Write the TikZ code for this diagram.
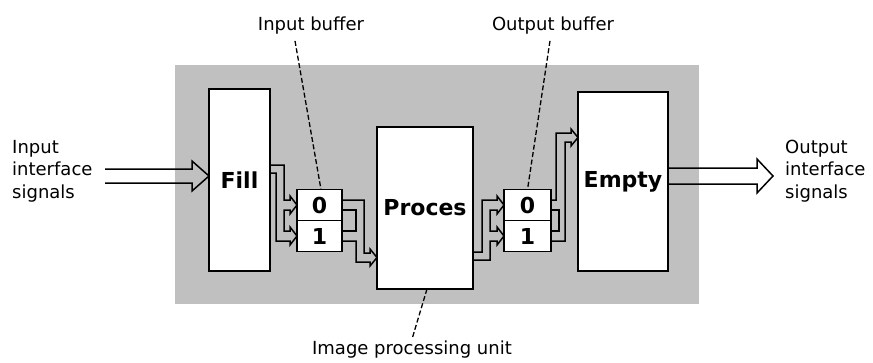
\documentclass[tikz,border=0pt]{standalone}
\usepackage{fontspec}
\setmainfont{DejaVu Sans}
\usetikzlibrary{calc}
\definecolor{panel}{HTML}{C0C0C0}

\begin{document}
\begin{tikzpicture}[x=1pt,y=-1pt,
    box/.style={draw,line width=1.8pt,fill=white,inner sep=0pt,outer sep=0pt,
      font=\bfseries\fontsize{22}{22}\selectfont},
    cell/.style={box,minimum width=45pt,minimum height=31pt},
    pipe/.style={line width=1.5pt,line join=miter},
    lead/.style={line width=1.3pt,dash pattern=on 5pt off 2.5pt},
    lbl/.style={font=\fontsize{18}{22.5}\selectfont,inner sep=0pt,align=left}]
  \useasboundingbox (0,0) rectangle (873,362);
  % grey panel
  \fill[panel] (175,65) rectangle (699,304);
  % blocks
  \node[box,minimum width=61pt,minimum height=182pt] (fill) at (239.5,180) {Fill};
  \node[box,minimum width=96pt,minimum height=162pt] (proces) at (425,208) {Proces};
  \node[box,minimum width=90pt,minimum height=179pt] (empty) at (623,181.5) {Empty};
  % buffers
  \node[cell] (inbuf0) at (319.5,205) {0};
  \node[cell] (inbuf1) at (319.5,236) {1};
  \node[cell,minimum width=47pt] (outbuf0) at (527.5,205) {0};
  \node[cell,minimum width=47pt] (outbuf1) at (527.5,236) {1};
  % labels
  \node[lbl,anchor=west] (inlbl) at (12,171) {Input\\interface\\signals};
  \node[lbl,anchor=west] (outlbl) at (785,171) {Output\\interface\\signals};
  \node[lbl] (inbuflbl) at (311,26) {Input buffer};
  \node[lbl] (outbuflbl) at (553,26) {Output buffer};
  \node[lbl] (iplbl) at (412,350) {Image processing unit};
  % interface arrows
  \draw[pipe] (105,169) -- (192,169) -- (192,161) -- (fill.west |- 0,176)
    -- (192,191) -- (192,183) -- (105,183);
  \draw[pipe] (empty.east |- 0,168) -- (757,168) -- (757,159) -- (773,176)
    -- (757,193) -- (757,184) -- (empty.east |- 0,184);
  % fill -> input buffer
  \draw[pipe] (fill.east |- 0,165) -- (284,165) -- (284,200) -- (290,200) -- (290,196)
    -- (inbuf0.west) -- (290,214) -- (290,210) -- (284,210) -- (284,231) -- (290,231)
    -- (290,227) -- (inbuf1.west) -- (290,245) -- (290,241) -- (276,241) -- (276,173)
    -- (fill.east |- 0,173);
  % input buffer -> proces
  \draw[pipe] (inbuf0.east |- 0,200) -- (364,200) -- (364,253) -- (370,253) -- (370,249)
    -- (proces.west |- 0,257.5) -- (370,266) -- (370,262) -- (356,262) -- (356,241)
    -- (inbuf1.east |- 0,241);
  \draw[pipe] (inbuf0.east |- 0,210) -- (356,210) -- (356,231) -- (inbuf1.east |- 0,231);
  % proces -> output buffer
  \draw[pipe] (proces.east |- 0,252) -- (482,252) -- (482,200) -- (497,200) -- (497,196)
    -- (outbuf0.west) -- (497,214) -- (497,210) -- (490,210) -- (490,231) -- (497,231)
    -- (497,227) -- (outbuf1.west) -- (497,245) -- (497,241) -- (490,241) -- (490,260)
    -- (proces.east |- 0,260);
  % output buffer -> empty
  \draw[pipe] (outbuf0.east |- 0,200) -- (556,200) -- (556,133) -- (571,133) -- (571,129)
    -- (empty.west |- 0,137.5) -- (571,146) -- (571,142) -- (565,142) -- (565,241)
    -- (outbuf1.east |- 0,241);
  \draw[pipe] (outbuf0.east |- 0,210) -- (559,210) -- (559,231) -- (outbuf1.east |- 0,231);
  % leaders
  \draw[lead] ($(inbuflbl.south)+(-16,6)$) -- ($(inbuf0.north)+(1.5,0)$);
  \draw[lead] ($(outbuflbl.south)+(-3,6)$) -- (outbuf0.north);
  \draw[lead] ($(proces.south)+(2,0)$) -- ($(iplbl.north)+(0,-2)$);
\end{tikzpicture}
\end{document}
